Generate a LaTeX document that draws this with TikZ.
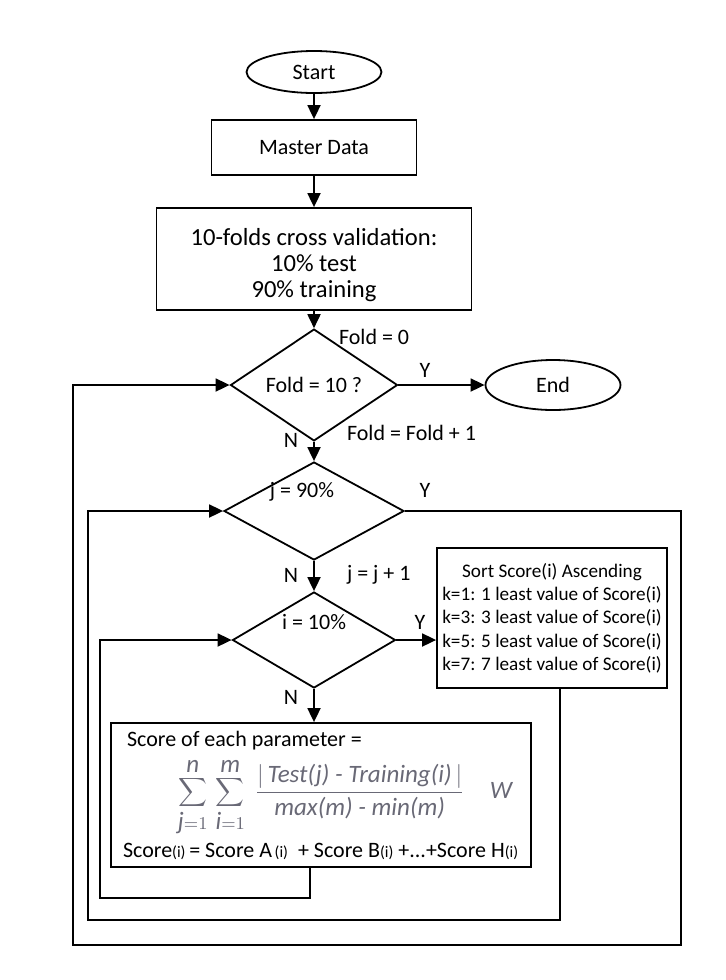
\documentclass[tikz,border=0pt]{standalone}
\usepackage{fontspec}
\setmainfont{Carlito}
\usetikzlibrary{shapes.geometric,arrows.meta}
\definecolor{formulagray}{RGB}{105,105,118}

\tikzset{
  box/.style={draw,line width=0.9pt,rectangle,inner sep=0pt},
  term/.style={draw,line width=0.9pt,ellipse,inner sep=0pt},
  decide/.style={draw,line width=0.9pt,diamond,inner sep=0pt},
  arr/.style={line width=0.9pt,-{Triangle[length=7pt,width=6.5pt]}}
}

\begin{document}
\begin{tikzpicture}[x=0.5pt,y=-0.5pt,font=\fontsize{11}{13}\selectfont]
\useasboundingbox (0,0) rectangle (726,980);

% main column
\node[term,minimum width=67.5pt,minimum height=21pt] (start) at (314,72) {Start};
\node[box,minimum width=102.5pt,minimum height=27.5pt] (master) at (314,147.5) {Master Data};
\node[box,minimum width=157.5pt,minimum height=51pt,align=center,font=\fontsize{12.3}{13}\selectfont] (cv) at (314,259) {\rule{0pt}{14.5pt}10-folds cross validation:\\10\% test\\90\% training};
\node[decide,minimum width=83.5pt,minimum height=42.5pt] (fold) at (314,385) {Fold = 10 ?};
\node[term,minimum width=67.5pt,minimum height=25pt] (end) at (553,385) {End};
\node[decide,minimum width=90pt,minimum height=49pt,label={[xshift=-6pt,yshift=9.5pt]center:j = 90\%}] (jd) at (314,511) {};
\node[decide,minimum width=81.5pt,minimum height=48pt,label={[yshift=9pt]center:i = 10\%}] (id) at (314,640) {};
\node[box,minimum width=115pt,minimum height=70pt,align=center,font=\fontsize{9.6}{11.65}\selectfont] (sort) at (552,618) {Sort Score(i) Ascending\\k=1: 1 least value of Score(i)\\k=3: 3 least value of Score(i)\\k=5: 5 least value of Score(i)\\k=7: 7 least value of Score(i)};
\node[box,minimum width=210pt,minimum height=72pt] (score) at (321,795) {};
\node[anchor=west] (scoretitle) at (120,741) {Score of each parameter =};
\node[font=\fontsize{12.5}{14}\selectfont,inner sep=0pt] (formula) at (345,797) {\color{formulagray}$\displaystyle\sum_{\textit{j}=1}^{\textit{n}}\,\sum_{\textit{i}=1}^{\textit{m}}\ \frac{\bigl|\,\textit{Test(j) - Training(i)}\,\bigr|}{\textit{max(m) - min(m)}}\quad \textit{W}$};
\node[anchor=west] (scoresum) at (116,851) {Score{\footnotesize(i)}\,= Score A{\footnotesize\,(i)} \ + Score B{\footnotesize(i)} +...+Score H{\footnotesize(i)}};

% connectors
\draw[arr] (start) -- (master);
\draw[arr] (master) -- (cv);
\draw[arr] (cv) -- (fold);
\draw[arr] (fold) -- (end);
\draw[arr] (fold) -- (jd);
\draw[arr] (jd) -- (id);
\draw[arr] (id.east) -- (id.east -| sort.west);
\draw[arr] (id) -- (id.south |- score.north);

% loops
\draw[arr] ([xshift=-2pt]id.south |- score.south) |- (100,898) |- (id.west);
\draw[arr] ([xshift=4pt]sort.south) |- (88,920) |- (jd.west);
\draw[arr] (jd.east) -| (681,945) -- (73,945) |- (fold.west);

% labels
\node[anchor=west] (lfold0) at (332,337) {Fold = 0};
\node (ly1) at (425,370) {Y};
\node (ln1) at (291,440) {N};
\node[anchor=west] (lfoldinc) at (340,433) {Fold = Fold + 1};
\node (ly2) at (425,490) {Y};
\node (ln2) at (291,575) {N};
\node[anchor=west] (ljinc) at (340,575) {j = j + 1};
\node (ly3) at (420,622) {Y};
\node (ln3) at (291,697) {N};
\end{tikzpicture}
\end{document}
